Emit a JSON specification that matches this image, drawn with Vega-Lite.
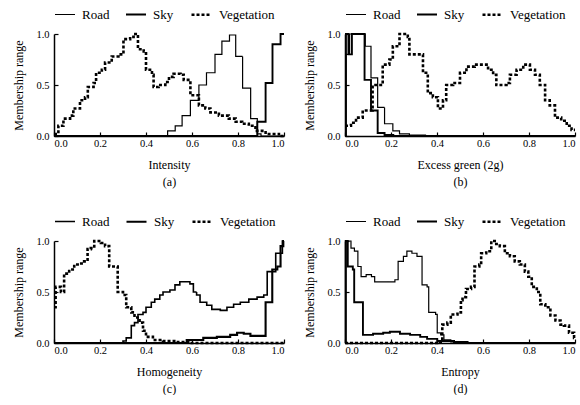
{
  "$schema": "https://vega.github.io/schema/vega-lite/v6.json",
  "background": "white",
  "padding": {"left": 12, "top": 3, "right": 0, "bottom": 0},
  "config": {
    "view": {"stroke": null},
    "font": "Liberation Serif",
    "axis": {"grid": false, "domainColor": "black", "domainWidth": 1.5, "tickColor": "black", "tickSize": -4, "tickWidth": 1.2, "labelColor": "black", "titleColor": "black", "labelFont": "Liberation Serif", "titleFont": "Liberation Serif", "labelFontSize": 10.5, "titleFontSize": 12, "titleFontWeight": "normal"},
    "axisX": {"titlePadding": 11, "titleLineHeight": 17, "labelPadding": 6},
    "axisY": {"titlePadding": 10, "labelPadding": 9},
    "legend": {"orient": "top", "direction": "horizontal", "title": null, "symbolType": "stroke", "symbolStrokeColor": "black", "symbolSize": 400, "labelFont": "Liberation Serif", "labelFontSize": 13, "labelColor": "black", "columnPadding": 12, "labelOffset": 6, "offset": 6}
  },
  "columns": 2,
  "spacing": {"row": 22, "column": 13},
  "resolve": {"scale": {"strokeWidth": "independent", "strokeDash": "independent"}, "legend": {"strokeWidth": "independent", "strokeDash": "independent"}},
  "concat": [
    {
      "width": 230, "height": 102,
      "data": {"values": [
        {"c":"Road","x":0,"y":0},{"c":"Road","x":0.494,"y":0.05},{"c":"Road","x":0.527,"y":0.1},{"c":"Road","x":0.557,"y":0.2},{"c":"Road","x":0.593,"y":0.35},{"c":"Road","x":0.63,"y":0.5},{"c":"Road","x":0.663,"y":0.62},{"c":"Road","x":0.7,"y":0.8},{"c":"Road","x":0.73,"y":0.93},{"c":"Road","x":0.763,"y":0.99},{"c":"Road","x":0.79,"y":0.78},{"c":"Road","x":0.82,"y":0.47},{"c":"Road","x":0.855,"y":0.17},{"c":"Road","x":0.884,"y":0.02},{"c":"Road","x":0.9,"y":0},{"c":"Road","x":1,"y":0},
        {"c":"Sky","x":0,"y":0},{"c":"Sky","x":0.884,"y":0.14},{"c":"Sky","x":0.92,"y":0.52},{"c":"Sky","x":0.95,"y":0.9},{"c":"Sky","x":0.985,"y":1},{"c":"Sky","x":1,"y":1},
        {"c":"Vegetation","x":0,"y":0.02},{"c":"Vegetation","x":0.019,"y":0.1},{"c":"Vegetation","x":0.041,"y":0.17},{"c":"Vegetation","x":0.07,"y":0.2},{"c":"Vegetation","x":0.084,"y":0.27},{"c":"Vegetation","x":0.113,"y":0.35},{"c":"Vegetation","x":0.135,"y":0.38},{"c":"Vegetation","x":0.147,"y":0.48},{"c":"Vegetation","x":0.172,"y":0.52},{"c":"Vegetation","x":0.183,"y":0.62},{"c":"Vegetation","x":0.208,"y":0.65},{"c":"Vegetation","x":0.222,"y":0.72},{"c":"Vegetation","x":0.251,"y":0.78},{"c":"Vegetation","x":0.28,"y":0.8},{"c":"Vegetation","x":0.302,"y":0.95},{"c":"Vegetation","x":0.331,"y":0.97},{"c":"Vegetation","x":0.346,"y":1},{"c":"Vegetation","x":0.365,"y":0.85},{"c":"Vegetation","x":0.39,"y":0.83},{"c":"Vegetation","x":0.4,"y":0.65},{"c":"Vegetation","x":0.426,"y":0.6},{"c":"Vegetation","x":0.433,"y":0.48},{"c":"Vegetation","x":0.455,"y":0.5},{"c":"Vegetation","x":0.484,"y":0.53},{"c":"Vegetation","x":0.5,"y":0.58},{"c":"Vegetation","x":0.52,"y":0.61},{"c":"Vegetation","x":0.55,"y":0.6},{"c":"Vegetation","x":0.564,"y":0.55},{"c":"Vegetation","x":0.593,"y":0.4},{"c":"Vegetation","x":0.63,"y":0.3},{"c":"Vegetation","x":0.658,"y":0.27},{"c":"Vegetation","x":0.68,"y":0.23},{"c":"Vegetation","x":0.717,"y":0.2},{"c":"Vegetation","x":0.76,"y":0.17},{"c":"Vegetation","x":0.79,"y":0.14},{"c":"Vegetation","x":0.818,"y":0.12},{"c":"Vegetation","x":0.847,"y":0.1},{"c":"Vegetation","x":0.876,"y":0.05},{"c":"Vegetation","x":0.92,"y":0.02},{"c":"Vegetation","x":0.978,"y":0},{"c":"Vegetation","x":1,"y":0}
      ]},
      "mark": {"type": "line", "interpolate": "step-after", "color": "black"},
      "encoding": {
        "x": {"field": "x", "type": "quantitative", "scale": {"domain": [0, 1], "nice": false}, "axis": {"values": [0, 0.2, 0.4, 0.6, 0.8, 1], "format": ".1f", "title": ["Intensity", "(a)"]}},
        "y": {"field": "y", "type": "quantitative", "scale": {"domain": [0, 1]}, "axis": {"values": [0, 0.5, 1], "format": ".1f", "title": "Membership range"}},
        "strokeWidth": {"field": "c", "type": "nominal", "scale": {"domain": ["Road", "Sky", "Vegetation"], "range": [1.2, 2.6, 1.0]}},
        "strokeDash": {"field": "c", "type": "nominal", "scale": {"domain": ["Road", "Sky", "Vegetation"], "range": [[1, 0], [1, 0], [3, 2]]}}
      }
    },
    {
      "width": 230, "height": 102,
      "data": {"values": [
        {"c":"Road","x":0,"y":0},{"c":"Road","x":0.004,"y":0.8},{"c":"Road","x":0.02,"y":1},{"c":"Road","x":0.088,"y":0.88},{"c":"Road","x":0.113,"y":0.57},{"c":"Road","x":0.142,"y":0.28},{"c":"Road","x":0.172,"y":0.12},{"c":"Road","x":0.208,"y":0.05},{"c":"Road","x":0.237,"y":0.02},{"c":"Road","x":0.28,"y":0.01},{"c":"Road","x":0.35,"y":0},{"c":"Road","x":1,"y":0},
        {"c":"Sky","x":0,"y":0},{"c":"Sky","x":0.004,"y":1},{"c":"Sky","x":0.015,"y":0.8},{"c":"Sky","x":0.03,"y":1},{"c":"Sky","x":0.085,"y":0.55},{"c":"Sky","x":0.113,"y":0.25},{"c":"Sky","x":0.142,"y":0.03},{"c":"Sky","x":0.172,"y":0.01},{"c":"Sky","x":0.21,"y":0},{"c":"Sky","x":1,"y":0},
        {"c":"Vegetation","x":0,"y":0.1},{"c":"Vegetation","x":0.026,"y":0.13},{"c":"Vegetation","x":0.048,"y":0.18},{"c":"Vegetation","x":0.077,"y":0.25},{"c":"Vegetation","x":0.12,"y":0.5},{"c":"Vegetation","x":0.164,"y":0.7},{"c":"Vegetation","x":0.193,"y":0.75},{"c":"Vegetation","x":0.208,"y":0.88},{"c":"Vegetation","x":0.237,"y":1},{"c":"Vegetation","x":0.273,"y":0.97},{"c":"Vegetation","x":0.28,"y":0.8},{"c":"Vegetation","x":0.324,"y":0.8},{"c":"Vegetation","x":0.339,"y":0.62},{"c":"Vegetation","x":0.36,"y":0.42},{"c":"Vegetation","x":0.382,"y":0.38},{"c":"Vegetation","x":0.404,"y":0.27},{"c":"Vegetation","x":0.426,"y":0.35},{"c":"Vegetation","x":0.44,"y":0.5},{"c":"Vegetation","x":0.47,"y":0.52},{"c":"Vegetation","x":0.5,"y":0.62},{"c":"Vegetation","x":0.528,"y":0.68},{"c":"Vegetation","x":0.564,"y":0.7},{"c":"Vegetation","x":0.6,"y":0.7},{"c":"Vegetation","x":0.622,"y":0.65},{"c":"Vegetation","x":0.644,"y":0.6},{"c":"Vegetation","x":0.658,"y":0.5},{"c":"Vegetation","x":0.702,"y":0.52},{"c":"Vegetation","x":0.717,"y":0.6},{"c":"Vegetation","x":0.746,"y":0.65},{"c":"Vegetation","x":0.775,"y":0.7},{"c":"Vegetation","x":0.804,"y":0.65},{"c":"Vegetation","x":0.826,"y":0.6},{"c":"Vegetation","x":0.847,"y":0.5},{"c":"Vegetation","x":0.87,"y":0.35},{"c":"Vegetation","x":0.89,"y":0.3},{"c":"Vegetation","x":0.913,"y":0.18},{"c":"Vegetation","x":0.94,"y":0.15},{"c":"Vegetation","x":0.964,"y":0.1},{"c":"Vegetation","x":0.985,"y":0.06},{"c":"Vegetation","x":1,"y":0.06}
      ]},
      "mark": {"type": "line", "interpolate": "step-after", "color": "black"},
      "encoding": {
        "x": {"field": "x", "type": "quantitative", "scale": {"domain": [0, 1], "nice": false}, "axis": {"values": [0, 0.2, 0.4, 0.6, 0.8, 1], "format": ".1f", "title": ["Excess green (2g)", "(b)"]}},
        "y": {"field": "y", "type": "quantitative", "scale": {"domain": [0, 1]}, "axis": {"values": [0, 0.5, 1], "format": ".1f", "title": "Membership range"}},
        "strokeWidth": {"field": "c", "type": "nominal", "scale": {"domain": ["Road", "Sky", "Vegetation"], "range": [1.2, 2.6, 1.0]}},
        "strokeDash": {"field": "c", "type": "nominal", "scale": {"domain": ["Road", "Sky", "Vegetation"], "range": [[1, 0], [1, 0], [3, 2]]}}
      }
    },
    {
      "width": 230, "height": 102,
      "data": {"values": [
        {"c":"Road","x":0,"y":0},{"c":"Road","x":0.3,"y":0.02},{"c":"Road","x":0.314,"y":0.05},{"c":"Road","x":0.336,"y":0.17},{"c":"Road","x":0.35,"y":0.2},{"c":"Road","x":0.365,"y":0.28},{"c":"Road","x":0.387,"y":0.3},{"c":"Road","x":0.4,"y":0.35},{"c":"Road","x":0.423,"y":0.4},{"c":"Road","x":0.438,"y":0.43},{"c":"Road","x":0.46,"y":0.47},{"c":"Road","x":0.474,"y":0.5},{"c":"Road","x":0.504,"y":0.52},{"c":"Road","x":0.526,"y":0.57},{"c":"Road","x":0.547,"y":0.6},{"c":"Road","x":0.577,"y":0.6},{"c":"Road","x":0.591,"y":0.58},{"c":"Road","x":0.606,"y":0.5},{"c":"Road","x":0.62,"y":0.47},{"c":"Road","x":0.635,"y":0.4},{"c":"Road","x":0.664,"y":0.37},{"c":"Road","x":0.686,"y":0.33},{"c":"Road","x":0.723,"y":0.32},{"c":"Road","x":0.752,"y":0.35},{"c":"Road","x":0.781,"y":0.38},{"c":"Road","x":0.81,"y":0.4},{"c":"Road","x":0.847,"y":0.43},{"c":"Road","x":0.883,"y":0.45},{"c":"Road","x":0.912,"y":0.47},{"c":"Road","x":0.927,"y":0.7},{"c":"Road","x":0.964,"y":0.88},{"c":"Road","x":0.993,"y":1},{"c":"Road","x":1,"y":1},
        {"c":"Sky","x":0,"y":0},{"c":"Sky","x":0.577,"y":0.03},{"c":"Sky","x":0.649,"y":0.05},{"c":"Sky","x":0.708,"y":0.06},{"c":"Sky","x":0.766,"y":0.08},{"c":"Sky","x":0.796,"y":0.1},{"c":"Sky","x":0.825,"y":0.09},{"c":"Sky","x":0.854,"y":0.07},{"c":"Sky","x":0.9,"y":0.07},{"c":"Sky","x":0.92,"y":0.4},{"c":"Sky","x":0.949,"y":0.72},{"c":"Sky","x":0.971,"y":0.75},{"c":"Sky","x":0.985,"y":0.95},{"c":"Sky","x":0.997,"y":1},{"c":"Sky","x":1,"y":1},
        {"c":"Vegetation","x":0,"y":0.35},{"c":"Vegetation","x":0.007,"y":0.55},{"c":"Vegetation","x":0.03,"y":0.5},{"c":"Vegetation","x":0.044,"y":0.68},{"c":"Vegetation","x":0.066,"y":0.72},{"c":"Vegetation","x":0.088,"y":0.77},{"c":"Vegetation","x":0.11,"y":0.78},{"c":"Vegetation","x":0.131,"y":0.8},{"c":"Vegetation","x":0.146,"y":0.92},{"c":"Vegetation","x":0.16,"y":0.93},{"c":"Vegetation","x":0.175,"y":1},{"c":"Vegetation","x":0.204,"y":0.98},{"c":"Vegetation","x":0.222,"y":0.95},{"c":"Vegetation","x":0.24,"y":0.75},{"c":"Vegetation","x":0.27,"y":0.75},{"c":"Vegetation","x":0.277,"y":0.5},{"c":"Vegetation","x":0.3,"y":0.47},{"c":"Vegetation","x":0.314,"y":0.35},{"c":"Vegetation","x":0.336,"y":0.3},{"c":"Vegetation","x":0.35,"y":0.25},{"c":"Vegetation","x":0.372,"y":0.2},{"c":"Vegetation","x":0.387,"y":0.12},{"c":"Vegetation","x":0.4,"y":0.06},{"c":"Vegetation","x":0.43,"y":0.03},{"c":"Vegetation","x":0.474,"y":0.02},{"c":"Vegetation","x":0.533,"y":0.01},{"c":"Vegetation","x":0.59,"y":0},{"c":"Vegetation","x":1,"y":0}
      ]},
      "mark": {"type": "line", "interpolate": "step-after", "color": "black"},
      "encoding": {
        "x": {"field": "x", "type": "quantitative", "scale": {"domain": [0, 1], "nice": false}, "axis": {"values": [0, 0.2, 0.4, 0.6, 0.8, 1], "format": ".1f", "title": ["Homogeneity", "(c)"]}},
        "y": {"field": "y", "type": "quantitative", "scale": {"domain": [0, 1]}, "axis": {"values": [0, 0.5, 1], "format": ".1f", "title": "Membership range"}},
        "strokeWidth": {"field": "c", "type": "nominal", "scale": {"domain": ["Road", "Sky", "Vegetation"], "range": [1.6, 2.6, 1.0]}},
        "strokeDash": {"field": "c", "type": "nominal", "scale": {"domain": ["Road", "Sky", "Vegetation"], "range": [[1, 0], [1, 0], [3, 2]]}}
      }
    },
    {
      "width": 230, "height": 102,
      "data": {"values": [
        {"c":"Road","x":0,"y":0},{"c":"Road","x":0.004,"y":1},{"c":"Road","x":0.026,"y":0.93},{"c":"Road","x":0.041,"y":0.9},{"c":"Road","x":0.056,"y":0.75},{"c":"Road","x":0.07,"y":0.65},{"c":"Road","x":0.092,"y":0.67},{"c":"Road","x":0.115,"y":0.65},{"c":"Road","x":0.129,"y":0.6},{"c":"Road","x":0.217,"y":0.62},{"c":"Road","x":0.231,"y":0.8},{"c":"Road","x":0.254,"y":0.85},{"c":"Road","x":0.269,"y":0.9},{"c":"Road","x":0.291,"y":0.88},{"c":"Road","x":0.313,"y":0.85},{"c":"Road","x":0.335,"y":0.57},{"c":"Road","x":0.357,"y":0.55},{"c":"Road","x":0.364,"y":0.3},{"c":"Road","x":0.394,"y":0.28},{"c":"Road","x":0.401,"y":0.1},{"c":"Road","x":0.416,"y":0.08},{"c":"Road","x":0.43,"y":0.03},{"c":"Road","x":0.46,"y":0.01},{"c":"Road","x":0.5,"y":0},{"c":"Road","x":1,"y":0},
        {"c":"Sky","x":0,"y":0},{"c":"Sky","x":0.003,"y":1},{"c":"Sky","x":0.012,"y":0.75},{"c":"Sky","x":0.034,"y":0.72},{"c":"Sky","x":0.04,"y":0.4},{"c":"Sky","x":0.07,"y":0.4},{"c":"Sky","x":0.078,"y":0.08},{"c":"Sky","x":0.122,"y":0.09},{"c":"Sky","x":0.166,"y":0.1},{"c":"Sky","x":0.195,"y":0.11},{"c":"Sky","x":0.239,"y":0.09},{"c":"Sky","x":0.283,"y":0.08},{"c":"Sky","x":0.327,"y":0.06},{"c":"Sky","x":0.357,"y":0.04},{"c":"Sky","x":0.401,"y":0.02},{"c":"Sky","x":0.474,"y":0.01},{"c":"Sky","x":0.533,"y":0},{"c":"Sky","x":1,"y":0},
        {"c":"Vegetation","x":0,"y":0},{"c":"Vegetation","x":0.4,"y":0.01},{"c":"Vegetation","x":0.416,"y":0.03},{"c":"Vegetation","x":0.423,"y":0.18},{"c":"Vegetation","x":0.445,"y":0.2},{"c":"Vegetation","x":0.46,"y":0.28},{"c":"Vegetation","x":0.489,"y":0.3},{"c":"Vegetation","x":0.504,"y":0.42},{"c":"Vegetation","x":0.511,"y":0.45},{"c":"Vegetation","x":0.526,"y":0.53},{"c":"Vegetation","x":0.548,"y":0.55},{"c":"Vegetation","x":0.563,"y":0.75},{"c":"Vegetation","x":0.584,"y":0.77},{"c":"Vegetation","x":0.592,"y":0.88},{"c":"Vegetation","x":0.614,"y":0.9},{"c":"Vegetation","x":0.636,"y":1},{"c":"Vegetation","x":0.651,"y":0.97},{"c":"Vegetation","x":0.673,"y":0.95},{"c":"Vegetation","x":0.695,"y":0.88},{"c":"Vegetation","x":0.717,"y":0.85},{"c":"Vegetation","x":0.738,"y":0.8},{"c":"Vegetation","x":0.76,"y":0.77},{"c":"Vegetation","x":0.782,"y":0.7},{"c":"Vegetation","x":0.797,"y":0.65},{"c":"Vegetation","x":0.812,"y":0.55},{"c":"Vegetation","x":0.834,"y":0.5},{"c":"Vegetation","x":0.849,"y":0.38},{"c":"Vegetation","x":0.871,"y":0.35},{"c":"Vegetation","x":0.893,"y":0.27},{"c":"Vegetation","x":0.915,"y":0.22},{"c":"Vegetation","x":0.937,"y":0.18},{"c":"Vegetation","x":0.952,"y":0.17},{"c":"Vegetation","x":0.974,"y":0.1},{"c":"Vegetation","x":0.996,"y":0.05},{"c":"Vegetation","x":1,"y":0.05}
      ]},
      "mark": {"type": "line", "interpolate": "step-after", "color": "black"},
      "encoding": {
        "x": {"field": "x", "type": "quantitative", "scale": {"domain": [0, 1], "nice": false}, "axis": {"values": [0, 0.2, 0.4, 0.6, 0.8, 1], "format": ".1f", "title": ["Entropy", "(d)"]}},
        "y": {"field": "y", "type": "quantitative", "scale": {"domain": [0, 1]}, "axis": {"values": [0, 0.5, 1], "format": ".1f", "title": "Membership range"}},
        "strokeWidth": {"field": "c", "type": "nominal", "scale": {"domain": ["Road", "Sky", "Vegetation"], "range": [1.2, 2.6, 1.0]}},
        "strokeDash": {"field": "c", "type": "nominal", "scale": {"domain": ["Road", "Sky", "Vegetation"], "range": [[1, 0], [1, 0], [3, 2]]}}
      }
    }
  ]
}
